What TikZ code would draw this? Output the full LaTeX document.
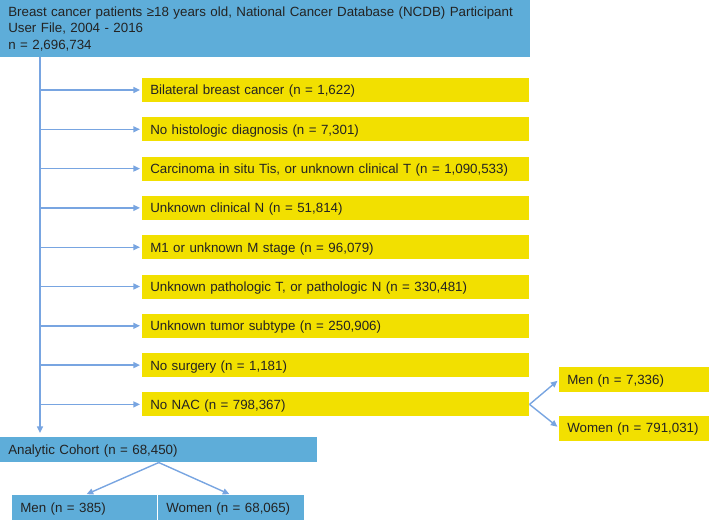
\documentclass[tikz,border=0pt]{standalone}
\usepackage{fontspec}
\setmainfont{Liberation Sans}
\usepackage{xcolor}
\usepackage{tikz}
\usetikzlibrary{arrows.meta,positioning,calc}
\definecolor{cohortblue}{RGB}{94,173,217}
\definecolor{exclyellow}{RGB}{242,224,0}
\definecolor{linkblue}{RGB}{120,165,225}
\definecolor{boxtext}{RGB}{35,35,35}

\begin{document}
\begin{tikzpicture}[
  x=0.75pt, y=-0.75pt,
  every node/.style={font=\fontsize{10}{12}\selectfont, text=boxtext, inner xsep=6pt, inner ysep=0pt},
  headbox/.style={fill=cohortblue, anchor=north west, align=left, minimum height=42.75pt,
    font=\fontsize{10}{12.2}\selectfont, text width=#1},
  bluebox/.style={fill=cohortblue, anchor=north west, align=left, minimum height=18.75pt,
    text height=8.7pt, text depth=1.3pt, text width=#1},
  yelbox/.style={fill=exclyellow, anchor=west, align=left, minimum height=18pt,
    text height=8.7pt, text depth=1.3pt, text width=#1},
  yelbox/.default=278.25pt,
  link/.style={draw=linkblue, line width=1.05pt, -{Triangle[length=5pt,width=4.5pt]}, shorten >=1.5pt}
]
\useasboundingbox (0,0) rectangle (709,520);

% source population
\node[headbox=385.5pt] (source) at (0,0)
  {Breast cancer patients ≥18 years old, National Cancer Database (NCDB) Participant\\
   User File, 2004 - 2016\\
   n = 2,696,734};
\coordinate (trunk) at (40,57);

% exclusions
\foreach \i/\txt in {1/{Bilateral breast cancer (n = 1,622)},
                     2/{No histologic diagnosis (n = 7,301)},
                     3/{Carcinoma in situ Tis, or unknown clinical T (n = 1,090,533)},
                     4/{Unknown clinical N (n = 51,814)},
                     5/{M1 or unknown M stage (n = 96,079)},
                     6/{Unknown pathologic T, or pathologic N (n = 330,481)},
                     7/{Unknown tumor subtype (n = 250,906)},
                     8/{No surgery (n = 1,181)},
                     9/{No NAC (n = 798,367)}} {
  \node[yelbox] (ex\i) at (142,{90+39.3*(\i-1)}) {\txt};
  \draw[link] (trunk |- ex\i.west) -- (ex\i.west);
}

% no NAC split
\node[yelbox=100.5pt, minimum height=18.75pt] (nacmen) at (559,379.5) {Men (n = 7,336)};
\node[yelbox=100.5pt, minimum height=18.75pt] (nacwomen) at (559,428) {Women (n = 791,031)};
\draw[link] (ex9.east) -- (nacmen.west);
\draw[link] (ex9.east) -- (nacwomen.west);

% analytic cohort
\node[bluebox=225.75pt] (cohort) at (0,437) {Analytic Cohort (n = 68,450)};
\draw[link, shorten >=3pt] (trunk) -- (trunk |- cohort.north);

\node[bluebox=96.75pt] (cohmen) at (12,495) {Men (n = 385)};
\node[bluebox=97.5pt] (cohwomen) at (158,495) {Women (n = 68,065)};
\draw[link] (cohort.south) -- (cohmen.north);
\draw[link] (cohort.south) -- (cohwomen.north);
\end{tikzpicture}
\end{document}
